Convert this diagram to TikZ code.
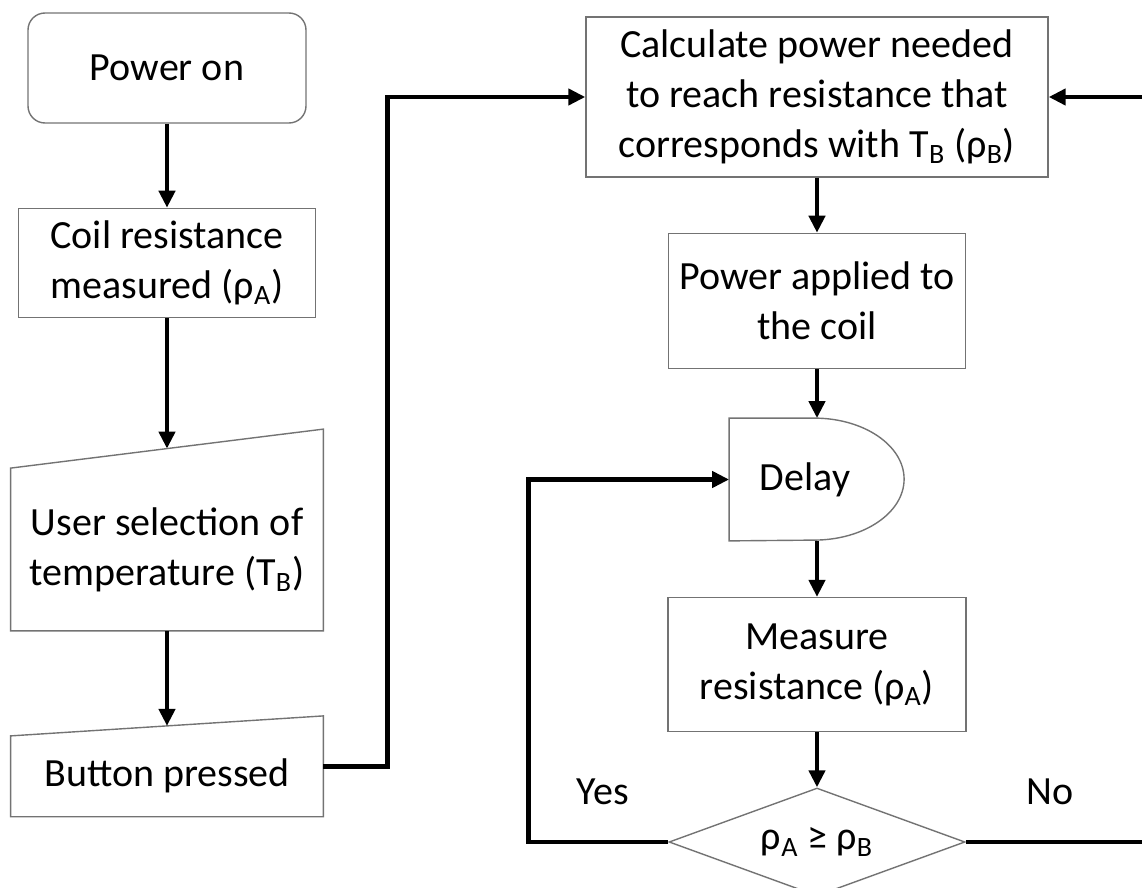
\documentclass[tikz,border=0pt]{standalone}
\usepackage{fontspec}
\setmainfont{Carlito}
\usetikzlibrary{positioning,arrows.meta,shapes.geometric,calc}

\begin{document}
\begin{tikzpicture}[
  x=0.5pt, y=-0.5pt,
  every node/.style={font=\fontsize{20}{25}\selectfont},
  startbox/.style={
    draw=black!55, line width=0.7pt, rounded corners=8.5pt,
    minimum width=139pt, minimum height=55pt, align=center,
  },
  procbox/.style={draw=black!55, line width=0.7pt, align=center, inner sep=2pt},
  inputbox/.style={minimum width=156pt, align=center, inner sep=2pt},
  delaybox/.style={minimum width=87.5pt, minimum height=61pt, align=center},
  decision/.style={
    diamond, draw=black!55, line width=0.7pt, aspect=2.74,
    minimum width=148pt, minimum height=54pt, inner sep=0pt,
  },
  outline/.style={draw=black!55, line width=0.7pt},
  arrow/.style={-{Triangle[length=8.5pt,width=8pt]}, line width=2.3pt},
]
  \useasboundingbox (0,0) rectangle (1142,888);

  % Left column: start and user input
  \node[startbox] (pwr) at (167,68) {Power on};
  \node[procbox, minimum width=148.5pt, minimum height=54.5pt, below=42pt of pwr] (coil)
    {Coil resistance\\measured (ρ\textsubscript{A})};
  \node[inputbox, minimum height=81pt, below=75pt of coil] (usr)
    {User selection of\\temperature (T\textsubscript{B})};
  \node[inputbox, minimum height=40pt, below=52.5pt of usr] (btn) {Button pressed};

  % manual input outlines (slanted tops)
  \draw[outline] (usr.south west) -- (usr.south east) -- ([yshift=19.5pt]usr.north east)
    -- (usr.north west) -- cycle;
  \draw[outline] (btn.south west) -- (btn.south east) -- ([yshift=10pt]btn.north east)
    -- (btn.north west) -- cycle;
  \coordinate (usr-top) at ([yshift=9.75pt]usr.north);
  \coordinate (btn-top) at ([yshift=5pt]btn.north);

  % Right column: control loop
  \node[procbox, minimum width=231pt, minimum height=80pt] (calc) at (817,97)
    {Calculate power needed\\to reach resistance that\\corresponds with T\textsubscript{B} (ρ\textsubscript{B})};
  \node[procbox, minimum width=148.5pt, minimum height=67.5pt, below=27.5pt of calc] (pwrap)
    {Power applied to\\the coil};
  \node[delaybox, below=24.5pt of pwrap] (dly) {\hspace*{-12pt}Delay};
  \draw[outline] (dly.south west) -- (dly.north west) -- ++(85,0)
    arc[start angle=90, end angle=-90, x radius=45pt, y radius=30.5pt] -- cycle;
  \node[procbox, minimum width=149pt, minimum height=67pt, below=28pt of dly] (meas)
    {Measure\\resistance (ρ\textsubscript{A})};
  \node[decision, below=27.5pt of meas] (cmp) {ρ\textsubscript{A} ≥ ρ\textsubscript{B}};

  \node (yes) at (603,792) {Yes};
  \node (no) at (1050,792) {No};

  % connectors
  \draw[arrow] (pwr.south) -- (coil.north);
  \draw[arrow] (coil.south) -- (usr-top);
  \draw[arrow] (usr.south) -- (btn-top);
  \draw[arrow] ([yshift=5pt]btn.east) -- ++(64,0) |- (calc.west);
  \draw[arrow] (calc.south) -- (pwrap.north);
  \draw[arrow] (pwrap.south) -- (dly.north);
  \draw[arrow] (dly.south) -- (meas.north);
  \draw[arrow] (meas.south) -- (cmp.north);
  \draw[arrow] (cmp.west) -- ++(-140,0) |- (dly.west);
  \draw[arrow] (cmp.east) -- ++(195,0) |- (calc.east);
\end{tikzpicture}
\end{document}
